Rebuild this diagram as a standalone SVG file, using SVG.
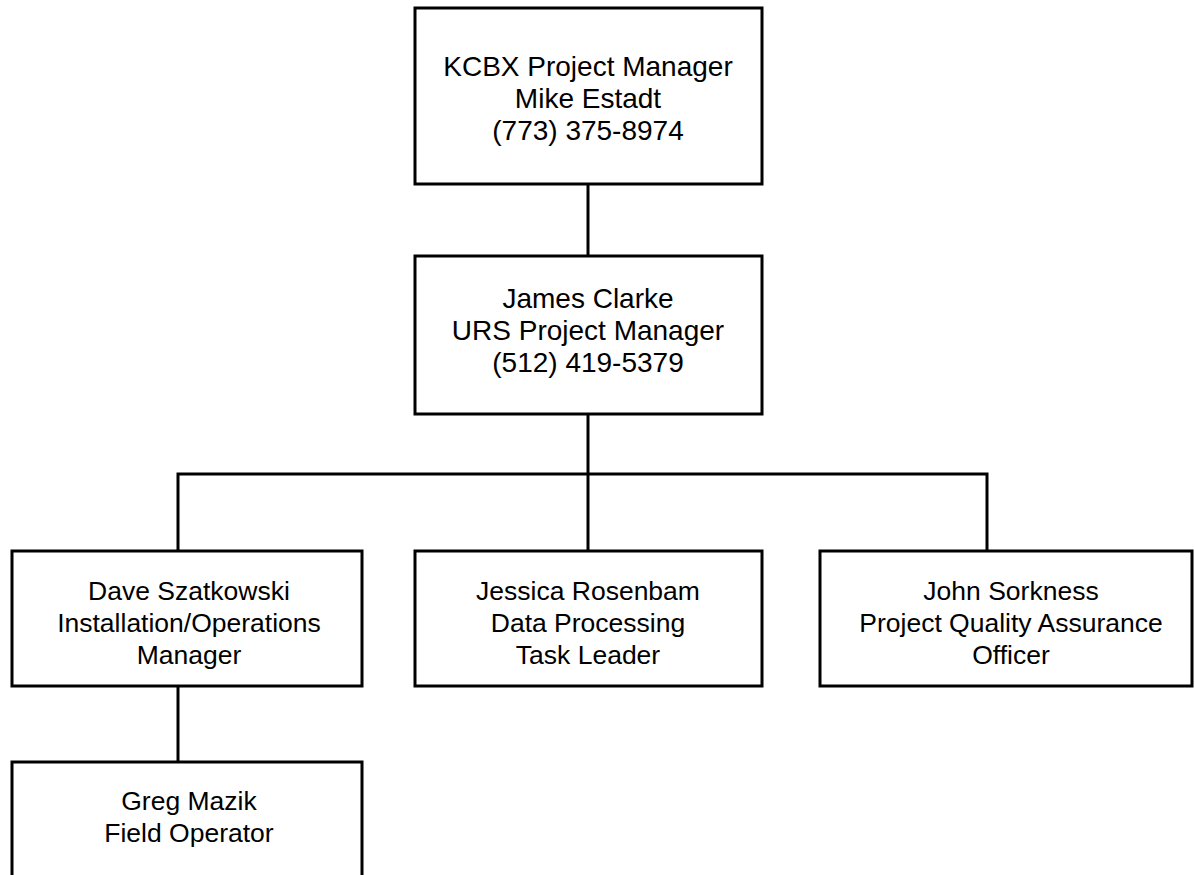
<svg xmlns="http://www.w3.org/2000/svg" width="1195" height="875" viewBox="0 0 1195 875">
<style>
.box{fill:#fff;stroke:#000;stroke-width:3}
.ln{fill:none;stroke:#000;stroke-width:3}
.t{font-family:"Liberation Sans",Arial,sans-serif;fill:#000;text-anchor:middle}
.big{font-size:28px}
.sm{font-size:26.5px}
</style>
<rect width="1195" height="875" fill="#fff"/>
<g id="connectors">
<path class="ln" d="M588 184V256"/>
<path class="ln" d="M588 414V474"/>
<path class="ln" d="M178 551V474H987V551"/>
<path class="ln" d="M588 474V551"/>
<path class="ln" d="M178 686V762"/>
</g>
<g id="kcbx">
<rect class="box" x="415" y="8" width="347" height="176"/>
<text class="t big" x="588" y="76">KCBX Project Manager</text>
<text class="t big" x="588" y="108">Mike Estadt</text>
<text class="t big" x="588" y="140">(773) 375-8974</text>
</g>
<g id="clarke">
<rect class="box" x="415" y="256" width="347" height="158"/>
<text class="t big" x="588" y="308">James Clarke</text>
<text class="t big" x="588" y="340">URS Project Manager</text>
<text class="t big" x="588" y="372">(512) 419-5379</text>
</g>
<g id="szatkowski">
<rect class="box" x="12" y="551" width="350" height="135"/>
<text class="t sm" x="189" y="600">Dave Szatkowski</text>
<text class="t sm" x="189" y="632">Installation/Operations</text>
<text class="t sm" x="189" y="664">Manager</text>
</g>
<g id="rosenbam">
<rect class="box" x="415" y="551" width="347" height="135"/>
<text class="t sm" x="588" y="600">Jessica Rosenbam</text>
<text class="t sm" x="588" y="632">Data Processing</text>
<text class="t sm" x="588" y="664">Task Leader</text>
</g>
<g id="sorkness">
<rect class="box" x="820" y="551" width="372" height="135"/>
<text class="t sm" x="1011" y="600">John Sorkness</text>
<text class="t sm" x="1011" y="632">Project Quality Assurance</text>
<text class="t sm" x="1011" y="664">Officer</text>
</g>
<g id="mazik">
<rect class="box" x="12" y="762" width="350" height="130"/>
<text class="t sm" x="189" y="810">Greg Mazik</text>
<text class="t sm" x="189" y="842">Field Operator</text>
</g>
</svg>
